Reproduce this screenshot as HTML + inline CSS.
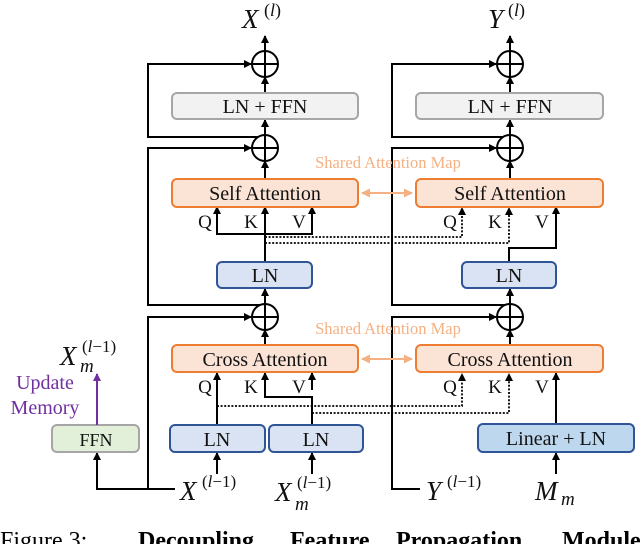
<!DOCTYPE html>
<html><head><meta charset="utf-8"><style>
html,body{margin:0;padding:0;background:#fff;}
svg{display:block;font-family:"Liberation Serif",serif;}
.b{font-size:20px;fill:#111;text-anchor:middle;}
.q{font-size:19px;fill:#111;text-anchor:middle;}
.i{font-style:italic;}
</style></head><body>
<svg width="640" height="544" viewBox="0 0 640 544" xmlns="http://www.w3.org/2000/svg">
<defs>
<marker id="a" markerWidth="8" markerHeight="8" refX="7" refY="4" orient="auto" markerUnits="userSpaceOnUse"><path d="M0,0 L8,4 L0,8 z" fill="#000"/></marker>
<marker id="p" markerWidth="8" markerHeight="8" refX="7" refY="4" orient="auto" markerUnits="userSpaceOnUse"><path d="M0,0 L8,4 L0,8 z" fill="#7030a0"/></marker>
<marker id="o" markerWidth="9" markerHeight="9" refX="8" refY="4.5" orient="auto-start-reverse" markerUnits="userSpaceOnUse"><path d="M0,0 L9,4.5 L0,9 z" fill="#f4b183"/></marker>
</defs>
<g stroke="#000" stroke-width="2" fill="none">
<line x1="265" y1="51" x2="265" y2="36" marker-end="url(#a)"/>
<line x1="265" y1="93" x2="265" y2="77" marker-end="url(#a)"/>
<line x1="265" y1="135" x2="265" y2="120" marker-end="url(#a)"/>
<line x1="265" y1="179" x2="265" y2="161" marker-end="url(#a)"/>
<polyline points="265,137 148,137 148,64 251,64" marker-end="url(#a)"/>
<polyline points="265,305 148,305 148,148 251,148" marker-end="url(#a)"/>
<line x1="265" y1="262" x2="265" y2="207" marker-end="url(#a)"/>
<polyline points="217,207 217,234 312,234 312,207"/>
<line x1="217" y1="222" x2="217" y2="207" marker-end="url(#a)"/>
<line x1="312" y1="222" x2="312" y2="207" marker-end="url(#a)"/>
<line x1="265" y1="304" x2="265" y2="289" marker-end="url(#a)"/>
<line x1="265" y1="345" x2="265" y2="330" marker-end="url(#a)"/>
<line x1="217" y1="425" x2="217" y2="373" marker-end="url(#a)"/>
<polyline points="312,425 312,397 265,397 265,373" marker-end="url(#a)"/>
<line x1="312" y1="390" x2="312" y2="373" marker-end="url(#a)"/>
<polyline points="175,489 148,489 148,317 251,317" marker-end="url(#a)"/>
<polyline points="148,489 97,489 97,453" marker-end="url(#a)"/>
<line x1="217" y1="474" x2="217" y2="453" marker-end="url(#a)"/>
<line x1="312" y1="474" x2="312" y2="453" marker-end="url(#a)"/>
<line x1="510" y1="51" x2="510" y2="36" marker-end="url(#a)"/>
<line x1="510" y1="93" x2="510" y2="77" marker-end="url(#a)"/>
<line x1="510" y1="135" x2="510" y2="120" marker-end="url(#a)"/>
<line x1="510" y1="179" x2="510" y2="161" marker-end="url(#a)"/>
<polyline points="510,137 392,137 392,64 496,64" marker-end="url(#a)"/>
<polyline points="510,305 392,305 392,148 496,148" marker-end="url(#a)"/>
<polyline points="509,262 509,248 556,248 556,207" marker-end="url(#a)"/>
<line x1="510" y1="304" x2="510" y2="289" marker-end="url(#a)"/>
<line x1="510" y1="345" x2="510" y2="330" marker-end="url(#a)"/>
<polyline points="420,489 392,489 392,317 496,317" marker-end="url(#a)"/>
<line x1="556" y1="424" x2="556" y2="373" marker-end="url(#a)"/>
<line x1="556" y1="474" x2="556" y2="453" marker-end="url(#a)"/>
</g>
<g stroke="#000" stroke-width="1.8" fill="none" stroke-dasharray="2,1.6">
<polyline points="265,237 462,237 462,210"/>
<polyline points="265,243 509,243 509,210"/>
<polyline points="217,406 462,406 462,376"/>
<polyline points="312,413 509,413 509,376"/>
</g>
<g fill="#000">
<path d="M462,207 l-4,8 h8z"/><path d="M509,207 l-4,8 h8z"/>
<path d="M462,373 l-4,8 h8z"/><path d="M509,373 l-4,8 h8z"/>
</g>
<g stroke="#000" stroke-width="2" fill="#fff">
<circle cx="265" cy="64" r="13"/><circle cx="265" cy="148" r="13"/><circle cx="265" cy="317" r="13"/>
<circle cx="510" cy="64" r="13"/><circle cx="510" cy="148" r="13"/><circle cx="510" cy="317" r="13"/>
</g>
<g stroke="#000" stroke-width="2">
<path d="M252,64h26M265,51v26M252,148h26M265,135v26M252,317h26M265,304v26"/>
<path d="M497,64h26M510,51v26M497,148h26M510,135v26M497,317h26M510,304v26"/>
</g>
<g stroke-width="2">
<rect x="172" y="93" width="186" height="26" rx="5" fill="#f2f2f2" stroke="#a6a6a6"/>
<rect x="416" y="93" width="187" height="26" rx="5" fill="#f2f2f2" stroke="#a6a6a6"/>
<rect x="172" y="179" width="186" height="28" rx="5" fill="#fbe3d6" stroke="#ed7d31"/>
<rect x="416" y="179" width="187" height="28" rx="5" fill="#fbe3d6" stroke="#ed7d31"/>
<rect x="172" y="345" width="186" height="27" rx="5" fill="#fbe3d6" stroke="#ed7d31"/>
<rect x="416" y="345" width="187" height="27" rx="5" fill="#fbe3d6" stroke="#ed7d31"/>
<rect x="217" y="262" width="95" height="26" rx="5" fill="#dae3f3" stroke="#2f5597"/>
<rect x="462" y="262" width="94" height="26" rx="5" fill="#dae3f3" stroke="#2f5597"/>
<rect x="170" y="425" width="95" height="27" rx="5" fill="#dae3f3" stroke="#2f5597"/>
<rect x="269" y="425" width="94" height="27" rx="5" fill="#dae3f3" stroke="#2f5597"/>
<rect x="478" y="424" width="156" height="28" rx="5" fill="#bdd7ee" stroke="#2f5597"/>
<rect x="52" y="425" width="87" height="27" rx="5" fill="#e2f0d9" stroke="#a6a6a6"/>
</g>
<line x1="97" y1="425" x2="97" y2="374" stroke="#7030a0" stroke-width="2" marker-end="url(#p)"/>
<line x1="362" y1="193" x2="412" y2="193" stroke="#f4b183" stroke-width="2" marker-start="url(#o)" marker-end="url(#o)"/>
<line x1="362" y1="359" x2="412" y2="359" stroke="#f4b183" stroke-width="2" marker-start="url(#o)" marker-end="url(#o)"/>
<text class="b" x="265" y="113">LN + FFN</text>
<text class="b" x="510" y="113">LN + FFN</text>
<text class="b" x="265" y="200">Self Attention</text>
<text class="b" x="510" y="200">Self Attention</text>
<text class="b" x="265" y="366">Cross Attention</text>
<text class="b" x="510" y="366">Cross Attention</text>
<text class="b" x="265" y="282">LN</text>
<text class="b" x="509" y="282">LN</text>
<text class="b" x="217" y="446">LN</text>
<text class="b" x="316" y="446">LN</text>
<text class="b" x="556" y="445">Linear + LN</text>
<text class="b" x="96" y="446" style="font-size:18px">FFN</text>
<text class="q" x="205" y="228">Q</text><text class="q" x="251" y="228">K</text><text class="q" x="299" y="228">V</text>
<text class="q" x="450" y="228">Q</text><text class="q" x="495" y="228">K</text><text class="q" x="542" y="228">V</text>
<text class="q" x="205" y="393">Q</text><text class="q" x="251" y="393">K</text><text class="q" x="299" y="393">V</text>
<text class="q" x="450" y="393">Q</text><text class="q" x="495" y="393">K</text><text class="q" x="542" y="393">V</text>
<text x="388" y="168" text-anchor="middle" style="font-size:16.5px;fill:#f4b183">Shared Attention Map</text>
<text x="388" y="334" text-anchor="middle" style="font-size:16.5px;fill:#f4b183">Shared Attention Map</text>
<text x="45" y="389" text-anchor="middle" style="font-size:20px;fill:#7030a0">Update</text>
<text x="45" y="414" text-anchor="middle" style="font-size:20px;fill:#7030a0">Memory</text>
<g style="fill:#111">
<text x="242" y="28" class="i" style="font-size:27px">X</text><text x="264" y="16" style="font-size:18px">(<tspan class="i">l</tspan>)</text>
<text x="488" y="28" class="i" style="font-size:27px">Y</text><text x="508" y="16" style="font-size:18px">(<tspan class="i">l</tspan>)</text>
<text x="60" y="365" class="i" style="font-size:27px">X</text><text x="82" y="352" style="font-size:17px">(<tspan class="i">l</tspan>−1)</text><text x="80" y="372" class="i" style="font-size:19px">m</text>
<text x="180" y="500" class="i" style="font-size:27px">X</text><text x="202" y="487" style="font-size:17px">(<tspan class="i">l</tspan>−1)</text>
<text x="275" y="501" class="i" style="font-size:27px">X</text><text x="297" y="488" style="font-size:17px">(<tspan class="i">l</tspan>−1)</text><text x="295" y="510" class="i" style="font-size:19px">m</text>
<text x="426" y="500" class="i" style="font-size:27px">Y</text><text x="447" y="487" style="font-size:17px">(<tspan class="i">l</tspan>−1)</text>
<text x="535" y="500" class="i" style="font-size:27px">M</text><text x="561" y="505" class="i" style="font-size:19px">m</text>
</g>
<text x="0" y="548" style="font-size:24px">Figure 3:</text>
<text x="138" y="548" style="font-size:24px;font-weight:bold">Decoupling</text>
<text x="290" y="548" style="font-size:24px;font-weight:bold">Feature</text>
<text x="396" y="548" style="font-size:24px;font-weight:bold">Propagation</text>
<text x="562" y="548" style="font-size:24px;font-weight:bold">Module</text>
</svg>
</body></html>
